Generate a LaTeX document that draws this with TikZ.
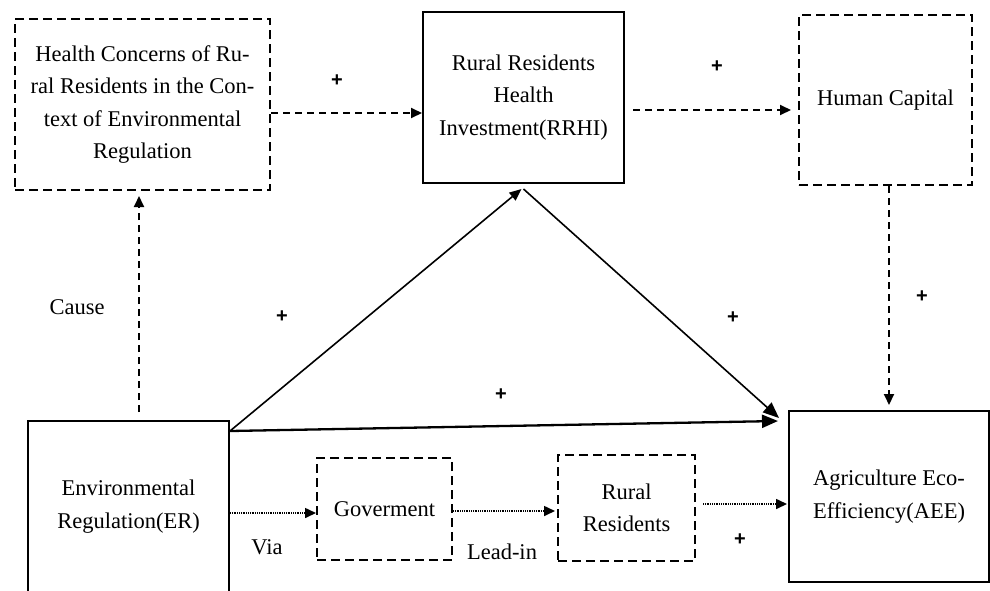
\documentclass[tikz,border=0pt]{standalone}
\usepackage{fontspec}
\setmainfont{Liberation Serif}
\newfontfamily\plusfont{Liberation Sans}
\usetikzlibrary{arrows.meta}
\begin{document}
\begin{tikzpicture}[x=1pt,y=-1pt,
  solidbox/.style={draw,line width=2pt,inner sep=0pt,align=center,font=\fontsize{22.5}{32.5}\selectfont},
  dashbox/.style={solidbox,dash pattern=on 9pt off 5pt},
  dasharrow/.style={-{Triangle[length=11pt,width=10pt]},line width=1.9pt,dash pattern=on 7pt off 5pt},
  solidarrow/.style={-{Triangle[length=12pt,width=10pt]},line width=1.6pt},
  bigtip/.style={-{Triangle[length=16pt,width=13pt]}},
  dotarrow/.style={-{Triangle[length=11pt,width=10pt]},line width=1.6pt,dash pattern=on 1pt off 0.8pt},
  plus/.style={inner sep=0pt,font=\plusfont\bfseries\fontsize{20}{20}\selectfont},
  lbl/.style={inner sep=0pt,font=\fontsize{22.5}{26}\selectfont}]
\useasboundingbox (0,0) rectangle (990,590);

% boxes
\node[dashbox,minimum width=255pt,minimum height=171pt] (hc) at (142.5,104.5)
  {Health Concerns of Ru-\\ral Residents in the Con-\\text of Environmental\\Regulation};
\node[solidbox,minimum width=201pt,minimum height=171pt] (rrhi) at (523.5,97.5)
  {Rural Residents\\Health\\Investment(RRHI)};
\node[dashbox,minimum width=173pt,minimum height=170pt] (hcap) at (885.5,100) {Human Capital};
\node[solidbox,minimum width=201pt,minimum height=171pt] (er) at (128.5,506.5)
  {Environmental\\Regulation(ER)};
\node[solidbox,minimum width=200pt,minimum height=171pt] (aee) at (889,496.5)
  {Agriculture Eco-\\Efficiency(AEE)};
\node[dashbox,minimum width=135pt,minimum height=102pt] (gov) at (384.5,509) {Goverment};
\node[dashbox,minimum width=137pt,minimum height=106pt] (rr) at (626.5,508) {Rural\\Residents};

% helper coordinates
\coordinate (hcout) at ([yshift=-8.5pt]hc.east);
\coordinate (rrhiout) at ([yshift=-12.5pt]rrhi.east);
\coordinate (causetop) at ([xshift=-3.5pt]hc.south);
\coordinate (causebot) at (causetop |- er.north);
\coordinate (erc) at ([yshift=-11pt]er.north east);
\coordinate (rrhib) at ([yshift=-5pt]rrhi.south);
\coordinate (aeein) at ([xshift=-9pt,yshift=-8pt]aee.north west);
\coordinate (aeein2) at ([xshift=-10pt,yshift=-11pt]aee.north west);
\coordinate (g1) at ([yshift=-4pt]gov.west);
\coordinate (r1) at ([yshift=-3pt]rr.west);
\coordinate (a1) at ([yshift=-7.5pt]aee.west);

% dashed connectors
\draw[dasharrow] (hcout) -- (hcout -| rrhi.west);
\draw[dasharrow,shorten <=8pt,shorten >=7pt] (rrhiout) -- (rrhiout -| hcap.west);
\draw[dasharrow,shorten >=5pt] (aee.north |- hcap.south) -- (aee.north);
\draw[dasharrow,shorten <=8pt,shorten >=5pt] (causebot) -- (causetop);

% solid connectors
\draw[solidarrow] (erc) -- ([xshift=-2pt]rrhib);
\draw[solidarrow,bigtip] (rrhib) -- (aeein);
\draw[solidarrow,bigtip,line width=2.3pt] (erc) -- (aeein2);

% dotted connectors
\draw[dotarrow] (g1 -| er.east) -- (g1);
\draw[dotarrow,shorten >=2pt] (r1 -| gov.east) -- (r1);
\draw[dotarrow,shorten <=7pt,shorten >=1pt] (a1 -| rr.east) -- (a1);

% labels
\node[plus] (p1) at (337,81) {+};
\node[plus] (p2) at (717,67) {+};
\node[plus] (p3) at (922,297) {+};
\node[plus] (p4) at (282,317) {+};
\node[plus] (p5) at (733,318) {+};
\node[plus] (p6) at (501,395) {+};
\node[plus] (p7) at (740,540) {+};
\node[lbl] (cause) at (77,307) {Cause};
\node[lbl] (via) at (267,547) {Via};
\node[lbl] (leadin) at (502,552) {Lead-in};
\end{tikzpicture}
\end{document}
